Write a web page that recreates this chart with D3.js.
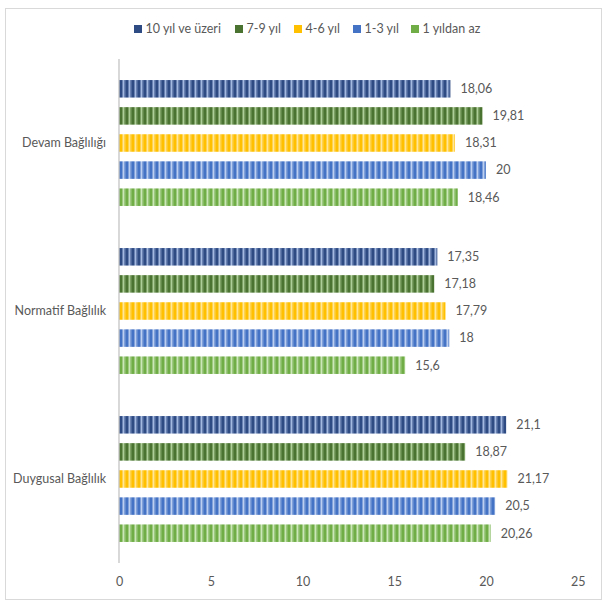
<!DOCTYPE html>
<html><head><meta charset="utf-8">
<script src="https://cdn.jsdelivr.net/npm/d3@7"></script>
<style>html,body{margin:0;padding:0;background:#fff;}svg{display:block;}</style>
</head><body>
<svg id="chart" width="605" height="610"></svg>
<script>
const categories = ["Devam Bağlılığı", "Normatif Bağlılık", "Duygusal Bağlılık"];
const seriesNames = ["10 yıl ve üzeri", "7-9 yıl", "4-6 yıl", "1-3 yıl", "1 yıldan az"];
const s10plus = [18.06, 17.35, 21.1];
const s7to9 = [19.81, 17.18, 18.87];
const s4to6 = [18.31, 17.79, 21.17];
const s1to3 = [20, 18, 20.5];
const sUnder1 = [18.46, 15.6, 20.26];
const xTicks = [0, 5, 10, 15, 20, 25];
const seriesValues = [s10plus, s7to9, s4to6, s1to3, sUnder1];
const colors = ["#2E4B84", "#4A7230", "#FFC000", "#4472C4", "#70AD47"];
const lights = ["#A3B9E0", "#ADCE98", "#FFE699", "#BCCFF0", "#CBE6B8"];

const svg = d3.select("#chart");
const font = "Lato, 'Open Sans', sans-serif";
const textColor = "#595959";

// border
svg.append("rect").attr("x", 5.5).attr("y", 8.5).attr("width", 596).attr("height", 591)
  .attr("fill", "#fff").attr("stroke", "#D9D9D9").attr("stroke-width", 1);

// patterns
const defs = svg.append("defs");
colors.forEach((c, i) => {
  const p = defs.append("pattern").attr("id", "pat" + i).attr("patternUnits", "userSpaceOnUse")
    .attr("width", 6).attr("height", 10);
  const mid = d3.interpolateRgb(c, lights[i])(0.5);
  p.append("rect").attr("width", 6).attr("height", 10).attr("fill", c);
  p.append("rect").attr("x", 2).attr("width", 1).attr("height", 10).attr("fill", mid);
  p.append("rect").attr("x", 3).attr("width", 1.5).attr("height", 10).attr("fill", lights[i]);
  p.append("rect").attr("x", 4.5).attr("width", 1).attr("height", 10).attr("fill", mid);
});

const x = d3.scaleLinear().domain([0, 25]).range([119, 577.75]);
const y = d3.scaleBand().domain(categories).range([59, 563]);
const bandH = y.bandwidth();
const pitch = 27.1;
const ys = d3.scaleBand().domain(seriesNames)
  .range([bandH / 2 - pitch * 2.5, bandH / 2 + pitch * 2.5])
  .paddingInner(0.354).paddingOuter(0.177);

// bars
const g = svg.append("g");
categories.forEach((cat, ci) => {
  seriesNames.forEach((s, si) => {
    const v = seriesValues[si][ci];
    const by = y(cat) + ys(s);
    g.append("rect").attr("x", x(0)).attr("y", by)
      .attr("width", x(v) - x(0)).attr("height", ys.bandwidth())
      .attr("fill", "url(#pat" + si + ")");
    g.append("text").attr("x", x(v) + 10).attr("y", by + ys.bandwidth() / 2)
      .attr("dy", "0.35em").attr("font-family", font).attr("font-size", 12.5)
      .attr("fill", textColor).text(String(v).replace(".", ","));
  });
});

// vertical axis line
svg.append("line").attr("x1", x(0)).attr("x2", x(0)).attr("y1", 59).attr("y2", 563)
  .attr("stroke", "#BFBFBF").attr("stroke-width", 1.2);

// category labels
const yAxis = svg.append("g").attr("transform", `translate(${x(0)},0)`)
  .call(d3.axisLeft(y).tickSize(0).tickPadding(13));
yAxis.select(".domain").remove();
yAxis.selectAll("text").attr("font-family", font).attr("font-size", 12.5).attr("fill", textColor);

// x axis
const xAxis = svg.append("g").attr("transform", "translate(0,577)")
  .call(d3.axisBottom(x).tickValues(xTicks).tickSize(0).tickPadding(0));
xAxis.select(".domain").remove();
xAxis.selectAll("text").attr("font-family", font).attr("font-size", 12.5).attr("fill", textColor);

// legend
const legendX = [134, 235, 294, 353, 411];
const leg = svg.append("g");
seriesNames.forEach((s, i) => {
  leg.append("rect").attr("x", legendX[i]).attr("y", 25).attr("width", 8).attr("height", 8)
    .attr("fill", colors[i]);
  leg.append("text").attr("x", legendX[i] + 11.5).attr("y", 29).attr("dy", "0.35em")
    .attr("font-family", font).attr("font-size", 12.5).attr("fill", textColor).text(s);
});
</script>
</body></html>
